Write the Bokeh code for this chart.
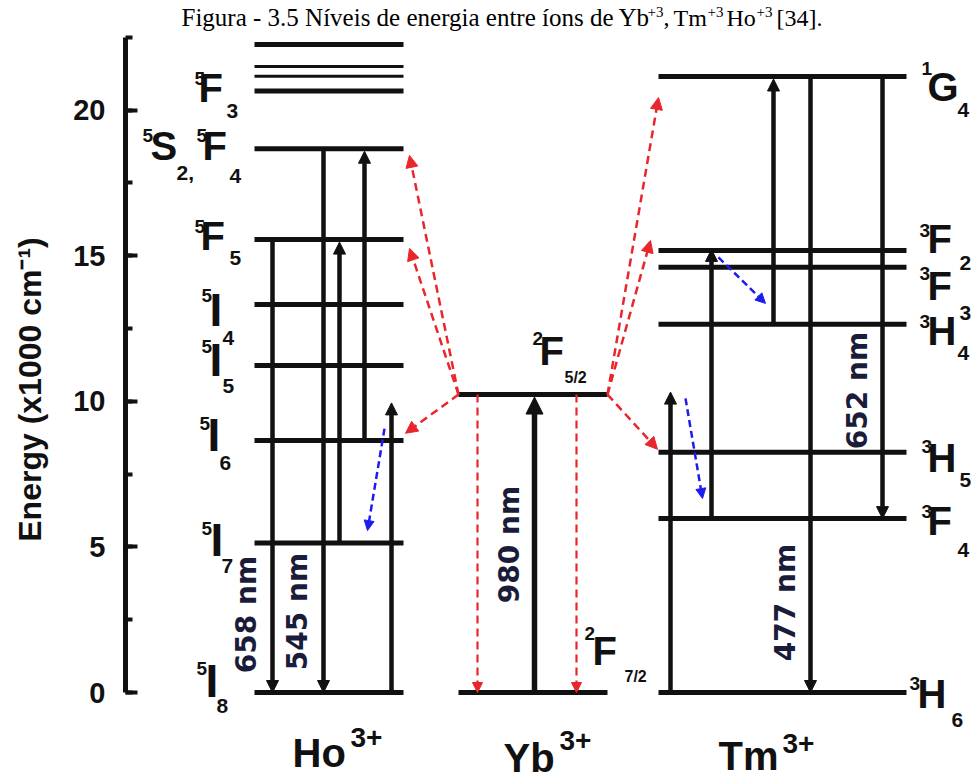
import math
from bokeh.plotting import figure
from bokeh.models import Range1d, Arrow, NormalHead, ColumnDataSource, SingleIntervalTicker
from bokeh.core.properties import value
from bokeh.embed import file_html
from bokeh.resources import INLINE

# ---------------- data: energies in units of 1000 cm^-1 ----------------
ho_energy = [0.0, 5.13, 8.65, 11.23, 13.32, 15.55, 18.67, 20.65, 21.16, 21.49, 22.25]
yb_energy = [0.0, 10.23]
tm_energy = [0.0, 5.97, 8.25, 12.64, 14.60, 15.18, 21.15]

# absorption (upward) transitions: start -> end
ho_up_start = [5.13, 8.65, 0.0]
ho_up_end = [15.55, 18.67, 10.03]
tm_up_start = [0.0, 5.97, 12.64]
tm_up_end = [10.40, 15.30, 21.15]
yb_pump_start = [0.0]
yb_pump_end = [10.23]

# emissions (downward) with their wavelengths
ho_em_start = [15.55, 18.67]
ho_em_end = [0.0, 0.0]
ho_em_label = ["658 nm", "545 nm"]
tm_em_start = [21.15, 21.15]
tm_em_end = [0.0, 5.97]
tm_em_label = ["477 nm", "652 nm"]
yb_pump_label = ["980 nm"]

# Yb relaxation back to the ground state
yb_relax_start = [10.23, 10.23]
yb_relax_end = [0.0, 0.0]

# energy transfer Yb(2F5/2) -> Ho / Tm (arrow tip energies)
et_ho_end = [18.44, 15.25, 8.90]
et_tm_end = [20.43, 15.52, 8.35]

# non-radiative decays: start -> end
nr_start = [9.06, 14.94, 10.10]
nr_end = [5.56, 13.36, 6.66]

# ---------------- layout helpers ----------------
ROW0 = 692.0      # screen row of E = 0
PXU = 29.125      # pixels per 1000 cm^-1
H = 778
W = 978


def ey(row):
    return (ROW0 - row) / PXU


def tip(e, px=2.5):
    return e - px / PXU


def base(row, size):
    # baseline row -> data y for text glyphs of the given pixel size
    return ey(row - 0.375 * size)


p = figure(width=W, height=H, x_range=Range1d(125, W), y_range=Range1d(ey(H), ey(0)),
           x_axis_location=None, y_axis_location="left", toolbar_location=None,
           output_backend="svg", min_border_left=125, min_border_right=0,
           min_border_top=0, min_border_bottom=0)
p.grid.visible = False
p.outline_line_color = None
p.background_fill_color = "white"
p.border_fill_color = "white"

ax = p.yaxis[0]
ax.bounds = (0, 22.5)
ax.ticker = SingleIntervalTicker(interval=5, num_minor_ticks=2)
ax.major_tick_in = 12
ax.major_tick_out = 0
ax.minor_tick_in = 7
ax.minor_tick_out = 0
ax.axis_line_width = 5
ax.major_tick_line_width = 4
ax.minor_tick_line_width = 4
ax.axis_line_color = "#111111"
ax.major_tick_line_color = "#111111"
ax.minor_tick_line_color = "#111111"
ax.major_label_text_font = "Liberation Sans"
ax.major_label_text_font_style = "bold"
ax.major_label_text_font_size = "29px"
ax.major_label_text_color = "#111111"
ax.major_label_standoff = 20
ax.axis_label = "Energy (x1000 cm\u207b\u00b9)"
ax.axis_label_text_font = "Liberation Sans"
ax.axis_label_text_font_style = "bold"
ax.axis_label_text_font_size = "32px"
ax.axis_label_text_color = "#111111"
ax.axis_label_standoff = 22

SANS = value("Liberation Sans")
INK = "#111111"

# ---------------- energy levels ----------------
HO_X = (254, 403)
YB_X = (458, 607)
TM_X = (658, 906)
thin = {8, 9}  # closely spaced Ho manifolds above 5F3

p.segment(x0=[HO_X[0]] * len(ho_energy), x1=[HO_X[1]] * len(ho_energy),
          y0=ho_energy, y1=ho_energy, line_color=INK,
          line_width=[3 if i in thin else 5 for i in range(len(ho_energy))])
p.segment(x0=[YB_X[0]] * 2, x1=[YB_X[1]] * 2, y0=yb_energy, y1=yb_energy,
          line_color=INK, line_width=5)
p.segment(x0=[TM_X[0]] * len(tm_energy), x1=[TM_X[1]] * len(tm_energy),
          y0=tm_energy, y1=tm_energy, line_color=INK, line_width=5)


def arrows(xs, ys, xe, ye, color, width, head, dash="solid"):
    src = ColumnDataSource(dict(xs=xs, ys=ys, xe=xe, ye=ye))
    p.add_layout(Arrow(source=src, x_start="xs", y_start="ys", x_end="xe", y_end="ye",
                       line_color=color, line_width=width, line_dash=dash,
                       end=NormalHead(size=head, fill_color=color, line_color=color,
                                      line_width=1)))


# upward absorptions
ho_up_x = [339, 364, 391]
arrows(ho_up_x, ho_up_start, ho_up_x, [tip(e) for e in ho_up_end], INK, 4.5, 12)
tm_up_x = [670, 711, 773]
arrows(tm_up_x, tm_up_start, tm_up_x, [tip(e) for e in tm_up_end], INK, 4.5, 12)
arrows([534], yb_pump_start, [534], [tip(e) for e in yb_pump_end], INK, 5.5, 17)

# emissions
ho_em_x = [272, 323]
arrows(ho_em_x, ho_em_start, ho_em_x, ho_em_end, INK, 4.5, 12)
tm_em_x = [810, 882]
arrows(tm_em_x, tm_em_start, tm_em_x, tm_em_end, INK, 4.5, 12)

RED = "#e8262c"
BLUE = "#1c1cf0"
# Yb relaxation
arrows([477, 576], yb_relax_start, [477, 576], yb_relax_end, RED, 2.2, 10, "8 5")
# energy transfer
arrows([458] * 3, [yb_energy[1]] * 3, [409, 409, 405], et_ho_end, RED, 2.5, 12, "8 5")
arrows([607] * 3, [yb_energy[1]] * 3, [658, 650, 657], et_tm_end, RED, 2.5, 12, "8 5")
# non-radiative decays
arrows([384, 718, 685], nr_start, [367, 765, 702], nr_end, BLUE, 2.5, 10, "7 4")

# ---------------- wavelength labels ----------------
WL = "#1b1b3a"
p.text(x=[246, 297, 509, 785, 857],
       y=[ey(614), ey(611), ey(544), ey(602), ey(390)],
       text=ho_em_label + yb_pump_label + tm_em_label,
       angle=math.pi / 2, text_align="center", text_baseline="middle",
       text_font=value("DejaVu Sans"), text_font_style="bold",
       text_font_size="28px", text_color=WL)

# ---------------- spectroscopic term labels ----------------
# (x, baseline row, text, size)
main = [
    (198, 102, "F", 40), (150, 160, "S", 40), (202, 160, "F", 40), (200, 250, "F", 40),
    (209, 327, "I", 46), (209, 377, "I", 46), (207, 452, "I", 46), (210, 557, "I", 46),
    (205, 698, "I", 46),
    (927, 101, "G", 40), (927, 253, "F", 40), (927, 300, "F", 40), (927, 345, "H", 40),
    (927, 472, "H", 40), (927, 535, "F", 40), (917, 708, "H", 40),
    (539, 365, "F", 40), (592, 665, "F", 40),
    (292, 767, "Ho", 40), (503, 772, "Yb", 40), (718, 770, "Tm", 40),
]
sup = [
    (194, 85, "5", 19), (142, 142, "5", 19), (196, 142, "5", 19), (194, 233, "5", 19),
    (201, 302, "5", 19), (201, 353, "5", 19), (199, 430, "5", 19), (201, 535, "5", 19),
    (196, 675, "5", 19),
    (921, 75, "1", 19), (919, 237, "3", 19), (919, 280, "3", 19), (919, 328, "3", 19),
    (921, 453, "3", 19), (921, 518, "3", 19), (909, 690, "3", 19),
    (532, 345, "2", 19), (584, 640, "2", 19),
    (350, 747, "3+", 28), (559, 750, "3+", 28), (782, 753, "3+", 28),
]
sub = [
    (226, 118, "3", 21), (176, 180, "2,", 21), (229, 183, "4", 21), (229, 265, "5", 21),
    (222, 345, "4", 21), (222, 393, "5", 21), (219, 470, "6", 21), (221, 573, "7", 21),
    (216, 713, "8", 21),
    (957, 117, "4", 21), (959, 270, "2", 21), (959, 320, "3", 21), (957, 360, "4", 21),
    (959, 487, "5", 21), (957, 557, "4", 21), (951, 727, "6", 21),
    (564, 383, "5/2", 16), (624, 682, "7/2", 16),
]
for group in (main, sup, sub):
    p.text(x=[g[0] for g in group], y=[base(g[1], g[3]) for g in group],
           text=[g[2] for g in group], text_font_size=[f"{g[3]}px" for g in group],
           text_font=SANS, text_font_style="bold", text_color=INK,
           text_align="left", text_baseline="alphabetic")

# ---------------- caption ----------------
SERIF = value("Liberation Serif")
cap = [(181, "Figura - 3.5 N\u00edveis de energia entre \u00edons de", 25), (618, "Yb", 25),
       (663, ",", 24), (673, "Tm", 24), (726, "Ho", 24), (776, "[34].", 24)]
p.text(x=[c[0] for c in cap], y=[base(26, c[2]) for c in cap], text=[c[1] for c in cap],
       text_font=SERIF, text_font_size=[f"{c[2]}px" for c in cap], text_color="black",
       text_align="left", text_baseline="alphabetic")
p.text(x=[647, 707, 756], y=[base(17, 15)] * 3, text=["+3"] * 3,
       text_font=SERIF, text_font_size="15px", text_color="black",
       text_align="left", text_baseline="alphabetic")

open("out.html", "w").write(file_html(p, INLINE))
